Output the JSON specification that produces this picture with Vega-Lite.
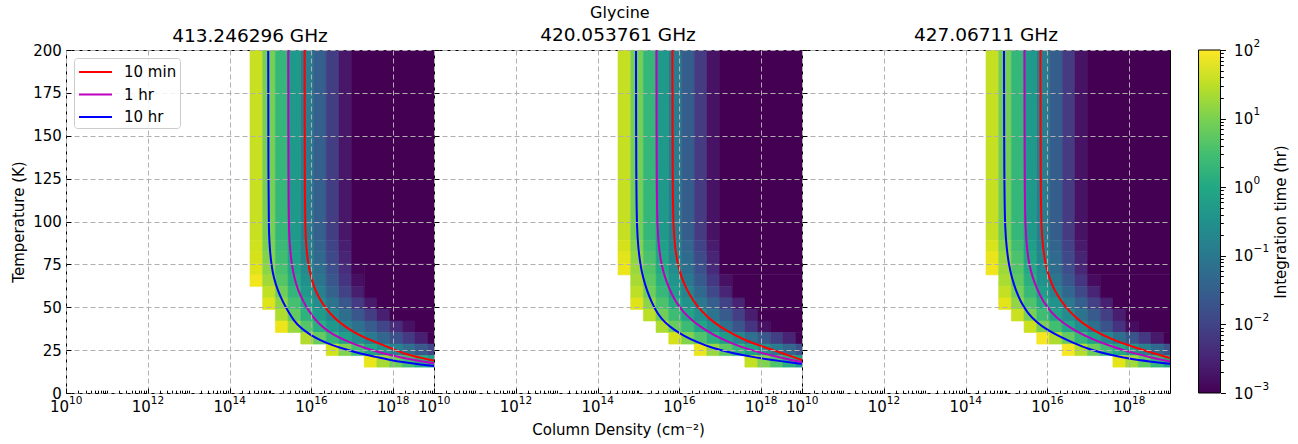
{
"$schema":"https://vega.github.io/schema/vega-lite/v6.json",
"background":"white",
"padding":{"left":11,"right":2,"top":5,"bottom":3},
"config":{
 "font":"DejaVu Sans",
 "view":{"stroke":"black","strokeWidth":1},
 "axis":{"labelFont":"DejaVu Sans","titleFont":"DejaVu Sans","labelFontSize":15,"titleFontSize":15,"titleFontWeight":"normal","labelColor":"black","titleColor":"black","tickColor":"black","domain":false},
 "legend":{"labelFont":"DejaVu Sans","titleFont":"DejaVu Sans","labelColor":"black","titleColor":"black"},
 "title":{"font":"DejaVu Sans","fontWeight":"normal","color":"black"}
},
"title":{"text":"Glycine","fontSize":16,"anchor":"middle","offset":4,"dx":-30},
"datasets":{
"cells_413":[
{"n0":14.5,"n1":14.81,"t0":89.05,"t1":200,"log_hr":1.58},{"n0":14.81,"n1":15.121,"t0":89.05,"t1":200,"log_hr":0.96},{"n0":15.121,"n1":15.431,"t0":89.05,"t1":200,"log_hr":0.33},{"n0":15.431,"n1":15.741,"t0":89.05,"t1":200,"log_hr":-0.29},{"n0":15.741,"n1":16.052,"t0":89.05,"t1":200,"log_hr":-0.9},{"n0":16.052,"n1":16.362,"t0":89.05,"t1":200,"log_hr":-1.5},{"n0":16.362,"n1":16.672,"t0":89.05,"t1":200,"log_hr":-2.11},{"n0":16.672,"n1":16.983,"t0":89.05,"t1":200,"log_hr":-2.71},
{"n0":14.5,"n1":14.81,"t0":82.33,"t1":89.05,"log_hr":1.64},{"n0":14.81,"n1":15.121,"t0":82.33,"t1":89.05,"log_hr":1.01},{"n0":15.121,"n1":15.431,"t0":82.33,"t1":89.05,"log_hr":0.39},{"n0":15.431,"n1":15.741,"t0":82.33,"t1":89.05,"log_hr":-0.23},{"n0":15.741,"n1":16.052,"t0":82.33,"t1":89.05,"log_hr":-0.82},{"n0":16.052,"n1":16.362,"t0":82.33,"t1":89.05,"log_hr":-1.41},{"n0":16.362,"n1":16.672,"t0":82.33,"t1":89.05,"log_hr":-2.01},{"n0":16.672,"n1":16.983,"t0":82.33,"t1":89.05,"log_hr":-2.6},
{"n0":14.5,"n1":14.81,"t0":75.6,"t1":82.33,"log_hr":1.69},{"n0":14.81,"n1":15.121,"t0":75.6,"t1":82.33,"log_hr":1.07},{"n0":15.121,"n1":15.431,"t0":75.6,"t1":82.33,"log_hr":0.45},{"n0":15.431,"n1":15.741,"t0":75.6,"t1":82.33,"log_hr":-0.16},{"n0":15.741,"n1":16.052,"t0":75.6,"t1":82.33,"log_hr":-0.74},{"n0":16.052,"n1":16.362,"t0":75.6,"t1":82.33,"log_hr":-1.33},{"n0":16.362,"n1":16.672,"t0":75.6,"t1":82.33,"log_hr":-1.91},{"n0":16.672,"n1":16.983,"t0":75.6,"t1":82.33,"log_hr":-2.49},
{"n0":16.983,"n1":19,"t0":75.6,"t1":200,"log_hr":-3},
{"n0":14.5,"n1":14.81,"t0":68.88,"t1":75.6,"log_hr":1.75},{"n0":14.81,"n1":15.121,"t0":68.88,"t1":75.6,"log_hr":1.13},{"n0":15.121,"n1":15.431,"t0":68.88,"t1":75.6,"log_hr":0.54},{"n0":15.431,"n1":15.741,"t0":68.88,"t1":75.6,"log_hr":-0.05},{"n0":15.741,"n1":16.052,"t0":68.88,"t1":75.6,"log_hr":-0.63},{"n0":16.052,"n1":16.362,"t0":68.88,"t1":75.6,"log_hr":-1.21},{"n0":16.362,"n1":16.672,"t0":68.88,"t1":75.6,"log_hr":-1.79},{"n0":16.672,"n1":16.983,"t0":68.88,"t1":75.6,"log_hr":-2.37},{"n0":16.983,"n1":17.293,"t0":68.88,"t1":75.6,"log_hr":-2.95},
{"n0":14.5,"n1":14.81,"t0":62.16,"t1":68.88,"log_hr":1.91},{"n0":14.81,"n1":15.121,"t0":62.16,"t1":68.88,"log_hr":1.29},{"n0":15.121,"n1":15.431,"t0":62.16,"t1":68.88,"log_hr":0.68},{"n0":15.431,"n1":15.741,"t0":62.16,"t1":68.88,"log_hr":0.09},{"n0":15.741,"n1":16.052,"t0":62.16,"t1":68.88,"log_hr":-0.49},{"n0":16.052,"n1":16.362,"t0":62.16,"t1":68.88,"log_hr":-1.07},{"n0":16.362,"n1":16.672,"t0":62.16,"t1":68.88,"log_hr":-1.65},{"n0":16.672,"n1":16.983,"t0":62.16,"t1":68.88,"log_hr":-2.24},{"n0":16.983,"n1":17.293,"t0":62.16,"t1":68.88,"log_hr":-2.82},
{"n0":14.81,"n1":15.121,"t0":55.43,"t1":62.16,"log_hr":1.53},{"n0":15.121,"n1":15.431,"t0":55.43,"t1":62.16,"log_hr":0.91},{"n0":15.431,"n1":15.741,"t0":55.43,"t1":62.16,"log_hr":0.31},{"n0":15.741,"n1":16.052,"t0":55.43,"t1":62.16,"log_hr":-0.29},{"n0":16.052,"n1":16.362,"t0":55.43,"t1":62.16,"log_hr":-0.87},{"n0":16.362,"n1":16.672,"t0":55.43,"t1":62.16,"log_hr":-1.45},{"n0":16.672,"n1":16.983,"t0":55.43,"t1":62.16,"log_hr":-2.03},{"n0":16.983,"n1":17.293,"t0":55.43,"t1":62.16,"log_hr":-2.61},
{"n0":17.293,"n1":19,"t0":55.43,"t1":75.6,"log_hr":-3},
{"n0":14.81,"n1":15.121,"t0":48.71,"t1":55.43,"log_hr":1.75},{"n0":15.121,"n1":15.431,"t0":48.71,"t1":55.43,"log_hr":1.13},{"n0":15.431,"n1":15.741,"t0":48.71,"t1":55.43,"log_hr":0.52},{"n0":15.741,"n1":16.052,"t0":48.71,"t1":55.43,"log_hr":-0.07},{"n0":16.052,"n1":16.362,"t0":48.71,"t1":55.43,"log_hr":-0.59},{"n0":16.362,"n1":16.672,"t0":48.71,"t1":55.43,"log_hr":-1.11},{"n0":16.672,"n1":16.983,"t0":48.71,"t1":55.43,"log_hr":-1.63},{"n0":16.983,"n1":17.293,"t0":48.71,"t1":55.43,"log_hr":-2.15},{"n0":17.293,"n1":17.603,"t0":48.71,"t1":55.43,"log_hr":-2.67},{"n0":17.603,"n1":19,"t0":48.71,"t1":55.43,"log_hr":-3},
{"n0":15.121,"n1":15.431,"t0":41.98,"t1":48.71,"log_hr":1.4},{"n0":15.431,"n1":15.741,"t0":41.98,"t1":48.71,"log_hr":0.8},{"n0":15.741,"n1":16.052,"t0":41.98,"t1":48.71,"log_hr":0.23},{"n0":16.052,"n1":16.362,"t0":41.98,"t1":48.71,"log_hr":-0.27},{"n0":16.362,"n1":16.672,"t0":41.98,"t1":48.71,"log_hr":-0.73},{"n0":16.672,"n1":16.983,"t0":41.98,"t1":48.71,"log_hr":-1.19},{"n0":16.983,"n1":17.293,"t0":41.98,"t1":48.71,"log_hr":-1.65},{"n0":17.293,"n1":17.603,"t0":41.98,"t1":48.71,"log_hr":-2.11},{"n0":17.603,"n1":17.914,"t0":41.98,"t1":48.71,"log_hr":-2.57},{"n0":17.914,"n1":19,"t0":41.98,"t1":48.71,"log_hr":-3},
{"n0":15.121,"n1":15.431,"t0":35.26,"t1":41.98,"log_hr":1.87},{"n0":15.431,"n1":15.741,"t0":35.26,"t1":41.98,"log_hr":1.25},{"n0":15.741,"n1":16.052,"t0":35.26,"t1":41.98,"log_hr":0.68},{"n0":16.052,"n1":16.362,"t0":35.26,"t1":41.98,"log_hr":0.13},{"n0":16.362,"n1":16.672,"t0":35.26,"t1":41.98,"log_hr":-0.31},{"n0":16.672,"n1":16.983,"t0":35.26,"t1":41.98,"log_hr":-0.73},{"n0":16.983,"n1":17.293,"t0":35.26,"t1":41.98,"log_hr":-1.14},{"n0":17.293,"n1":17.603,"t0":35.26,"t1":41.98,"log_hr":-1.55},{"n0":17.603,"n1":17.914,"t0":35.26,"t1":41.98,"log_hr":-1.96},{"n0":17.914,"n1":18.224,"t0":35.26,"t1":41.98,"log_hr":-2.37},{"n0":18.224,"n1":18.534,"t0":35.26,"t1":41.98,"log_hr":-2.79},{"n0":18.534,"n1":19,"t0":35.26,"t1":41.98,"log_hr":-3},
{"n0":15.741,"n1":16.052,"t0":28.53,"t1":35.26,"log_hr":1.43},{"n0":16.052,"n1":16.362,"t0":28.53,"t1":35.26,"log_hr":0.84},{"n0":16.362,"n1":16.672,"t0":28.53,"t1":35.26,"log_hr":0.32},{"n0":16.672,"n1":16.983,"t0":28.53,"t1":35.26,"log_hr":-0.16},{"n0":16.983,"n1":17.293,"t0":28.53,"t1":35.26,"log_hr":-0.56},{"n0":17.293,"n1":17.603,"t0":28.53,"t1":35.26,"log_hr":-0.96},{"n0":17.603,"n1":17.914,"t0":28.53,"t1":35.26,"log_hr":-1.37},{"n0":17.914,"n1":18.224,"t0":28.53,"t1":35.26,"log_hr":-1.77},{"n0":18.224,"n1":18.534,"t0":28.53,"t1":35.26,"log_hr":-2.17},{"n0":18.534,"n1":18.845,"t0":28.53,"t1":35.26,"log_hr":-2.58},{"n0":18.845,"n1":19,"t0":28.53,"t1":35.26,"log_hr":-2.99},
{"n0":16.362,"n1":16.672,"t0":21.81,"t1":28.53,"log_hr":1.67},{"n0":16.672,"n1":16.983,"t0":21.81,"t1":28.53,"log_hr":1.05},{"n0":16.983,"n1":17.293,"t0":21.81,"t1":28.53,"log_hr":0.5},{"n0":17.293,"n1":17.603,"t0":21.81,"t1":28.53,"log_hr":-0.02},{"n0":17.603,"n1":17.914,"t0":21.81,"t1":28.53,"log_hr":-0.42},{"n0":17.914,"n1":18.224,"t0":21.81,"t1":28.53,"log_hr":-0.82},{"n0":18.224,"n1":18.534,"t0":21.81,"t1":28.53,"log_hr":-1.21},{"n0":18.534,"n1":18.845,"t0":21.81,"t1":28.53,"log_hr":-1.61},{"n0":18.845,"n1":19,"t0":21.81,"t1":28.53,"log_hr":-2.0},
{"n0":17.293,"n1":17.603,"t0":15.09,"t1":21.81,"log_hr":1.85},{"n0":17.603,"n1":17.914,"t0":15.09,"t1":21.81,"log_hr":1.35},{"n0":17.914,"n1":18.224,"t0":15.09,"t1":21.81,"log_hr":0.9},{"n0":18.224,"n1":18.534,"t0":15.09,"t1":21.81,"log_hr":0.5},{"n0":18.534,"n1":18.845,"t0":15.09,"t1":21.81,"log_hr":0.1},{"n0":18.845,"n1":19,"t0":15.09,"t1":21.81,"log_hr":-0.25}
],
"cells_420":[
{"n0":14.5,"n1":14.81,"t0":89.05,"t1":200,"log_hr":1.57},{"n0":14.81,"n1":15.121,"t0":89.05,"t1":200,"log_hr":0.95},{"n0":15.121,"n1":15.431,"t0":89.05,"t1":200,"log_hr":0.33},{"n0":15.431,"n1":15.741,"t0":89.05,"t1":200,"log_hr":-0.29},{"n0":15.741,"n1":16.052,"t0":89.05,"t1":200,"log_hr":-0.91},{"n0":16.052,"n1":16.362,"t0":89.05,"t1":200,"log_hr":-1.53},{"n0":16.362,"n1":16.672,"t0":89.05,"t1":200,"log_hr":-2.15},{"n0":16.672,"n1":16.983,"t0":89.05,"t1":200,"log_hr":-2.77},
{"n0":14.5,"n1":14.81,"t0":82.33,"t1":89.05,"log_hr":1.69},{"n0":14.81,"n1":15.121,"t0":82.33,"t1":89.05,"log_hr":1.07},{"n0":15.121,"n1":15.431,"t0":82.33,"t1":89.05,"log_hr":0.45},{"n0":15.431,"n1":15.741,"t0":82.33,"t1":89.05,"log_hr":-0.17},{"n0":15.741,"n1":16.052,"t0":82.33,"t1":89.05,"log_hr":-0.79},{"n0":16.052,"n1":16.362,"t0":82.33,"t1":89.05,"log_hr":-1.4},{"n0":16.362,"n1":16.672,"t0":82.33,"t1":89.05,"log_hr":-2.02},{"n0":16.672,"n1":16.983,"t0":82.33,"t1":89.05,"log_hr":-2.63},
{"n0":14.5,"n1":14.81,"t0":75.6,"t1":82.33,"log_hr":1.8},{"n0":14.81,"n1":15.121,"t0":75.6,"t1":82.33,"log_hr":1.18},{"n0":15.121,"n1":15.431,"t0":75.6,"t1":82.33,"log_hr":0.56},{"n0":15.431,"n1":15.741,"t0":75.6,"t1":82.33,"log_hr":-0.05},{"n0":15.741,"n1":16.052,"t0":75.6,"t1":82.33,"log_hr":-0.66},{"n0":16.052,"n1":16.362,"t0":75.6,"t1":82.33,"log_hr":-1.27},{"n0":16.362,"n1":16.672,"t0":75.6,"t1":82.33,"log_hr":-1.88},{"n0":16.672,"n1":16.983,"t0":75.6,"t1":82.33,"log_hr":-2.49},
{"n0":14.5,"n1":14.81,"t0":68.88,"t1":75.6,"log_hr":1.86},{"n0":14.81,"n1":15.121,"t0":68.88,"t1":75.6,"log_hr":1.24},{"n0":15.121,"n1":15.431,"t0":68.88,"t1":75.6,"log_hr":0.64},{"n0":15.431,"n1":15.741,"t0":68.88,"t1":75.6,"log_hr":0.06},{"n0":15.741,"n1":16.052,"t0":68.88,"t1":75.6,"log_hr":-0.56},{"n0":16.052,"n1":16.362,"t0":68.88,"t1":75.6,"log_hr":-1.18},{"n0":16.362,"n1":16.672,"t0":68.88,"t1":75.6,"log_hr":-1.79},{"n0":16.672,"n1":16.983,"t0":68.88,"t1":75.6,"log_hr":-2.41},
{"n0":16.983,"n1":19,"t0":68.88,"t1":200,"log_hr":-3},
{"n0":14.81,"n1":15.121,"t0":62.16,"t1":68.88,"log_hr":1.35},{"n0":15.121,"n1":15.431,"t0":62.16,"t1":68.88,"log_hr":0.75},{"n0":15.431,"n1":15.741,"t0":62.16,"t1":68.88,"log_hr":0.18},{"n0":15.741,"n1":16.052,"t0":62.16,"t1":68.88,"log_hr":-0.41},{"n0":16.052,"n1":16.362,"t0":62.16,"t1":68.88,"log_hr":-1.01},{"n0":16.362,"n1":16.672,"t0":62.16,"t1":68.88,"log_hr":-1.6},{"n0":16.672,"n1":16.983,"t0":62.16,"t1":68.88,"log_hr":-2.19},{"n0":16.983,"n1":17.293,"t0":62.16,"t1":68.88,"log_hr":-2.79},
{"n0":14.81,"n1":15.121,"t0":55.43,"t1":62.16,"log_hr":1.51},{"n0":15.121,"n1":15.431,"t0":55.43,"t1":62.16,"log_hr":0.9},{"n0":15.431,"n1":15.741,"t0":55.43,"t1":62.16,"log_hr":0.36},{"n0":15.741,"n1":16.052,"t0":55.43,"t1":62.16,"log_hr":-0.2},{"n0":16.052,"n1":16.362,"t0":55.43,"t1":62.16,"log_hr":-0.77},{"n0":16.362,"n1":16.672,"t0":55.43,"t1":62.16,"log_hr":-1.34},{"n0":16.672,"n1":16.983,"t0":55.43,"t1":62.16,"log_hr":-1.91},{"n0":16.983,"n1":17.293,"t0":55.43,"t1":62.16,"log_hr":-2.49},
{"n0":17.293,"n1":19,"t0":55.43,"t1":68.88,"log_hr":-3},
{"n0":14.81,"n1":15.121,"t0":48.71,"t1":55.43,"log_hr":1.76},{"n0":15.121,"n1":15.431,"t0":48.71,"t1":55.43,"log_hr":1.14},{"n0":15.431,"n1":15.741,"t0":48.71,"t1":55.43,"log_hr":0.59},{"n0":15.741,"n1":16.052,"t0":48.71,"t1":55.43,"log_hr":0.06},{"n0":16.052,"n1":16.362,"t0":48.71,"t1":55.43,"log_hr":-0.46},{"n0":16.362,"n1":16.672,"t0":48.71,"t1":55.43,"log_hr":-0.98},{"n0":16.672,"n1":16.983,"t0":48.71,"t1":55.43,"log_hr":-1.5},{"n0":16.983,"n1":17.293,"t0":48.71,"t1":55.43,"log_hr":-2.02},{"n0":17.293,"n1":17.603,"t0":48.71,"t1":55.43,"log_hr":-2.54},{"n0":17.603,"n1":19,"t0":48.71,"t1":55.43,"log_hr":-3},
{"n0":15.121,"n1":15.431,"t0":41.98,"t1":48.71,"log_hr":1.5},{"n0":15.431,"n1":15.741,"t0":41.98,"t1":48.71,"log_hr":0.91},{"n0":15.741,"n1":16.052,"t0":41.98,"t1":48.71,"log_hr":0.43},{"n0":16.052,"n1":16.362,"t0":41.98,"t1":48.71,"log_hr":-0.05},{"n0":16.362,"n1":16.672,"t0":41.98,"t1":48.71,"log_hr":-0.56},{"n0":16.672,"n1":16.983,"t0":41.98,"t1":48.71,"log_hr":-1.07},{"n0":16.983,"n1":17.293,"t0":41.98,"t1":48.71,"log_hr":-1.58},{"n0":17.293,"n1":17.603,"t0":41.98,"t1":48.71,"log_hr":-2.09},{"n0":17.603,"n1":17.914,"t0":41.98,"t1":48.71,"log_hr":-2.61},{"n0":17.914,"n1":19,"t0":41.98,"t1":48.71,"log_hr":-3},
{"n0":15.431,"n1":15.741,"t0":35.26,"t1":41.98,"log_hr":1.4},{"n0":15.741,"n1":16.052,"t0":35.26,"t1":41.98,"log_hr":0.85},{"n0":16.052,"n1":16.362,"t0":35.26,"t1":41.98,"log_hr":0.41},{"n0":16.362,"n1":16.672,"t0":35.26,"t1":41.98,"log_hr":-0.04},{"n0":16.672,"n1":16.983,"t0":35.26,"t1":41.98,"log_hr":-0.59},{"n0":16.983,"n1":17.293,"t0":35.26,"t1":41.98,"log_hr":-1.14},{"n0":17.293,"n1":17.603,"t0":35.26,"t1":41.98,"log_hr":-1.69},{"n0":17.603,"n1":17.914,"t0":35.26,"t1":41.98,"log_hr":-2.24},{"n0":17.914,"n1":18.224,"t0":35.26,"t1":41.98,"log_hr":-2.79},{"n0":18.224,"n1":19,"t0":35.26,"t1":41.98,"log_hr":-3},
{"n0":15.741,"n1":16.052,"t0":28.53,"t1":35.26,"log_hr":1.69},{"n0":16.052,"n1":16.362,"t0":28.53,"t1":35.26,"log_hr":1.07},{"n0":16.362,"n1":16.672,"t0":28.53,"t1":35.26,"log_hr":0.63},{"n0":16.672,"n1":16.983,"t0":28.53,"t1":35.26,"log_hr":0.2},{"n0":16.983,"n1":17.293,"t0":28.53,"t1":35.26,"log_hr":-0.24},{"n0":17.293,"n1":17.603,"t0":28.53,"t1":35.26,"log_hr":-0.7},{"n0":17.603,"n1":17.914,"t0":28.53,"t1":35.26,"log_hr":-1.15},{"n0":17.914,"n1":18.224,"t0":28.53,"t1":35.26,"log_hr":-1.61},{"n0":18.224,"n1":18.534,"t0":28.53,"t1":35.26,"log_hr":-2.07},{"n0":18.534,"n1":18.845,"t0":28.53,"t1":35.26,"log_hr":-2.52},{"n0":18.845,"n1":19,"t0":28.53,"t1":35.26,"log_hr":-2.98},
{"n0":16.362,"n1":16.672,"t0":21.81,"t1":28.53,"log_hr":1.85},{"n0":16.672,"n1":16.983,"t0":21.81,"t1":28.53,"log_hr":1.23},{"n0":16.983,"n1":17.293,"t0":21.81,"t1":28.53,"log_hr":0.74},{"n0":17.293,"n1":17.603,"t0":21.81,"t1":28.53,"log_hr":0.33},{"n0":17.603,"n1":17.914,"t0":21.81,"t1":28.53,"log_hr":-0.09},{"n0":17.914,"n1":18.224,"t0":21.81,"t1":28.53,"log_hr":-0.52},{"n0":18.224,"n1":18.534,"t0":21.81,"t1":28.53,"log_hr":-0.94},{"n0":18.534,"n1":18.845,"t0":21.81,"t1":28.53,"log_hr":-1.36},{"n0":18.845,"n1":19,"t0":21.81,"t1":28.53,"log_hr":-1.79},
{"n0":17.603,"n1":17.914,"t0":15.09,"t1":21.81,"log_hr":1.55},{"n0":17.914,"n1":18.224,"t0":15.09,"t1":21.81,"log_hr":1.05},{"n0":18.224,"n1":18.534,"t0":15.09,"t1":21.81,"log_hr":0.6},{"n0":18.534,"n1":18.845,"t0":15.09,"t1":21.81,"log_hr":0.15},{"n0":18.845,"n1":19,"t0":15.09,"t1":21.81,"log_hr":-0.2}
],
"cells_427":[
{"n0":14.5,"n1":14.81,"t0":89.05,"t1":200,"log_hr":1.57},{"n0":14.81,"n1":15.121,"t0":89.05,"t1":200,"log_hr":0.95},{"n0":15.121,"n1":15.431,"t0":89.05,"t1":200,"log_hr":0.33},{"n0":15.431,"n1":15.741,"t0":89.05,"t1":200,"log_hr":-0.29},{"n0":15.741,"n1":16.052,"t0":89.05,"t1":200,"log_hr":-0.91},{"n0":16.052,"n1":16.362,"t0":89.05,"t1":200,"log_hr":-1.53},{"n0":16.362,"n1":16.672,"t0":89.05,"t1":200,"log_hr":-2.15},{"n0":16.672,"n1":16.983,"t0":89.05,"t1":200,"log_hr":-2.77},
{"n0":14.5,"n1":14.81,"t0":82.33,"t1":89.05,"log_hr":1.71},{"n0":14.81,"n1":15.121,"t0":82.33,"t1":89.05,"log_hr":1.09},{"n0":15.121,"n1":15.431,"t0":82.33,"t1":89.05,"log_hr":0.46},{"n0":15.431,"n1":15.741,"t0":82.33,"t1":89.05,"log_hr":-0.18},{"n0":15.741,"n1":16.052,"t0":82.33,"t1":89.05,"log_hr":-0.8},{"n0":16.052,"n1":16.362,"t0":82.33,"t1":89.05,"log_hr":-1.41},{"n0":16.362,"n1":16.672,"t0":82.33,"t1":89.05,"log_hr":-2.03},{"n0":16.672,"n1":16.983,"t0":82.33,"t1":89.05,"log_hr":-2.65},
{"n0":14.5,"n1":14.81,"t0":75.6,"t1":82.33,"log_hr":1.84},{"n0":14.81,"n1":15.121,"t0":75.6,"t1":82.33,"log_hr":1.22},{"n0":15.121,"n1":15.431,"t0":75.6,"t1":82.33,"log_hr":0.58},{"n0":15.431,"n1":15.741,"t0":75.6,"t1":82.33,"log_hr":-0.06},{"n0":15.741,"n1":16.052,"t0":75.6,"t1":82.33,"log_hr":-0.68},{"n0":16.052,"n1":16.362,"t0":75.6,"t1":82.33,"log_hr":-1.29},{"n0":16.362,"n1":16.672,"t0":75.6,"t1":82.33,"log_hr":-1.91},{"n0":16.672,"n1":16.983,"t0":75.6,"t1":82.33,"log_hr":-2.52},
{"n0":14.5,"n1":14.81,"t0":68.88,"t1":75.6,"log_hr":1.9},{"n0":14.81,"n1":15.121,"t0":68.88,"t1":75.6,"log_hr":1.28},{"n0":15.121,"n1":15.431,"t0":68.88,"t1":75.6,"log_hr":0.66},{"n0":15.431,"n1":15.741,"t0":68.88,"t1":75.6,"log_hr":0.03},{"n0":15.741,"n1":16.052,"t0":68.88,"t1":75.6,"log_hr":-0.59},{"n0":16.052,"n1":16.362,"t0":68.88,"t1":75.6,"log_hr":-1.22},{"n0":16.362,"n1":16.672,"t0":68.88,"t1":75.6,"log_hr":-1.84},{"n0":16.672,"n1":16.983,"t0":68.88,"t1":75.6,"log_hr":-2.47},
{"n0":16.983,"n1":19,"t0":68.88,"t1":200,"log_hr":-3},
{"n0":14.81,"n1":15.121,"t0":62.16,"t1":68.88,"log_hr":1.38},{"n0":15.121,"n1":15.431,"t0":62.16,"t1":68.88,"log_hr":0.77},{"n0":15.431,"n1":15.741,"t0":62.16,"t1":68.88,"log_hr":0.17},{"n0":15.741,"n1":16.052,"t0":62.16,"t1":68.88,"log_hr":-0.44},{"n0":16.052,"n1":16.362,"t0":62.16,"t1":68.88,"log_hr":-1.04},{"n0":16.362,"n1":16.672,"t0":62.16,"t1":68.88,"log_hr":-1.65},{"n0":16.672,"n1":16.983,"t0":62.16,"t1":68.88,"log_hr":-2.25},{"n0":16.983,"n1":17.293,"t0":62.16,"t1":68.88,"log_hr":-2.86},
{"n0":14.81,"n1":15.121,"t0":55.43,"t1":62.16,"log_hr":1.55},{"n0":15.121,"n1":15.431,"t0":55.43,"t1":62.16,"log_hr":0.94},{"n0":15.431,"n1":15.741,"t0":55.43,"t1":62.16,"log_hr":0.36},{"n0":15.741,"n1":16.052,"t0":55.43,"t1":62.16,"log_hr":-0.21},{"n0":16.052,"n1":16.362,"t0":55.43,"t1":62.16,"log_hr":-0.78},{"n0":16.362,"n1":16.672,"t0":55.43,"t1":62.16,"log_hr":-1.35},{"n0":16.672,"n1":16.983,"t0":55.43,"t1":62.16,"log_hr":-1.92},{"n0":16.983,"n1":17.293,"t0":55.43,"t1":62.16,"log_hr":-2.49},
{"n0":17.293,"n1":19,"t0":55.43,"t1":68.88,"log_hr":-3},
{"n0":14.81,"n1":15.121,"t0":48.71,"t1":55.43,"log_hr":1.8},{"n0":15.121,"n1":15.431,"t0":48.71,"t1":55.43,"log_hr":1.18},{"n0":15.431,"n1":15.741,"t0":48.71,"t1":55.43,"log_hr":0.62},{"n0":15.741,"n1":16.052,"t0":48.71,"t1":55.43,"log_hr":0.07},{"n0":16.052,"n1":16.362,"t0":48.71,"t1":55.43,"log_hr":-0.46},{"n0":16.362,"n1":16.672,"t0":48.71,"t1":55.43,"log_hr":-0.99},{"n0":16.672,"n1":16.983,"t0":48.71,"t1":55.43,"log_hr":-1.52},{"n0":16.983,"n1":17.293,"t0":48.71,"t1":55.43,"log_hr":-2.05},{"n0":17.293,"n1":17.603,"t0":48.71,"t1":55.43,"log_hr":-2.58},{"n0":17.603,"n1":19,"t0":48.71,"t1":55.43,"log_hr":-3},
{"n0":15.121,"n1":15.431,"t0":41.98,"t1":48.71,"log_hr":1.6},{"n0":15.431,"n1":15.741,"t0":41.98,"t1":48.71,"log_hr":0.99},{"n0":15.741,"n1":16.052,"t0":41.98,"t1":48.71,"log_hr":0.45},{"n0":16.052,"n1":16.362,"t0":41.98,"t1":48.71,"log_hr":-0.08},{"n0":16.362,"n1":16.672,"t0":41.98,"t1":48.71,"log_hr":-0.59},{"n0":16.672,"n1":16.983,"t0":41.98,"t1":48.71,"log_hr":-1.09},{"n0":16.983,"n1":17.293,"t0":41.98,"t1":48.71,"log_hr":-1.59},{"n0":17.293,"n1":17.603,"t0":41.98,"t1":48.71,"log_hr":-2.09},{"n0":17.603,"n1":17.914,"t0":41.98,"t1":48.71,"log_hr":-2.6},{"n0":17.914,"n1":19,"t0":41.98,"t1":48.71,"log_hr":-3},
{"n0":15.431,"n1":15.741,"t0":35.26,"t1":41.98,"log_hr":1.62},{"n0":15.741,"n1":16.052,"t0":35.26,"t1":41.98,"log_hr":1.0},{"n0":16.052,"n1":16.362,"t0":35.26,"t1":41.98,"log_hr":0.48},{"n0":16.362,"n1":16.672,"t0":35.26,"t1":41.98,"log_hr":-0.03},{"n0":16.672,"n1":16.983,"t0":35.26,"t1":41.98,"log_hr":-0.6},{"n0":16.983,"n1":17.293,"t0":35.26,"t1":41.98,"log_hr":-1.16},{"n0":17.293,"n1":17.603,"t0":35.26,"t1":41.98,"log_hr":-1.72},{"n0":17.603,"n1":17.914,"t0":35.26,"t1":41.98,"log_hr":-2.28},{"n0":17.914,"n1":18.224,"t0":35.26,"t1":41.98,"log_hr":-2.84},{"n0":18.224,"n1":19,"t0":35.26,"t1":41.98,"log_hr":-3},
{"n0":15.741,"n1":16.052,"t0":28.53,"t1":35.26,"log_hr":1.95},{"n0":16.052,"n1":16.362,"t0":28.53,"t1":35.26,"log_hr":1.39},{"n0":16.362,"n1":16.672,"t0":28.53,"t1":35.26,"log_hr":0.82},{"n0":16.672,"n1":16.983,"t0":28.53,"t1":35.26,"log_hr":0.33},{"n0":16.983,"n1":17.293,"t0":28.53,"t1":35.26,"log_hr":-0.15},{"n0":17.293,"n1":17.603,"t0":28.53,"t1":35.26,"log_hr":-0.66},{"n0":17.603,"n1":17.914,"t0":28.53,"t1":35.26,"log_hr":-1.16},{"n0":17.914,"n1":18.224,"t0":28.53,"t1":35.26,"log_hr":-1.66},{"n0":18.224,"n1":18.534,"t0":28.53,"t1":35.26,"log_hr":-2.16},{"n0":18.534,"n1":18.845,"t0":28.53,"t1":35.26,"log_hr":-2.66},{"n0":18.845,"n1":19,"t0":28.53,"t1":35.26,"log_hr":-3},
{"n0":16.362,"n1":16.672,"t0":21.81,"t1":28.53,"log_hr":1.95},{"n0":16.672,"n1":16.983,"t0":21.81,"t1":28.53,"log_hr":1.45},{"n0":16.983,"n1":17.293,"t0":21.81,"t1":28.53,"log_hr":0.88},{"n0":17.293,"n1":17.603,"t0":21.81,"t1":28.53,"log_hr":0.46},{"n0":17.603,"n1":17.914,"t0":21.81,"t1":28.53,"log_hr":0.03},{"n0":17.914,"n1":18.224,"t0":21.81,"t1":28.53,"log_hr":-0.41},{"n0":18.224,"n1":18.534,"t0":21.81,"t1":28.53,"log_hr":-0.86},{"n0":18.534,"n1":18.845,"t0":21.81,"t1":28.53,"log_hr":-1.31},{"n0":18.845,"n1":19,"t0":21.81,"t1":28.53,"log_hr":-1.76},
{"n0":17.603,"n1":17.914,"t0":15.09,"t1":21.81,"log_hr":1.8},{"n0":17.914,"n1":18.224,"t0":15.09,"t1":21.81,"log_hr":1.3},{"n0":18.224,"n1":18.534,"t0":15.09,"t1":21.81,"log_hr":0.8},{"n0":18.534,"n1":18.845,"t0":15.09,"t1":21.81,"log_hr":0.35},{"n0":18.845,"n1":19,"t0":15.09,"t1":21.81,"log_hr":0.0}
],
"lines_413":[
{"level":"10 hr","lgN":14.946,"T":200},{"level":"10 hr","lgN":14.95,"T":120},{"level":"10 hr","lgN":14.961,"T":95},{"level":"10 hr","lgN":14.981,"T":85},{"level":"10 hr","lgN":15.021,"T":75},{"level":"10 hr","lgN":15.081,"T":67},{"level":"10 hr","lgN":15.176,"T":60},{"level":"10 hr","lgN":15.306,"T":53},{"level":"10 hr","lgN":15.446,"T":47},{"level":"10 hr","lgN":15.576,"T":42},{"level":"10 hr","lgN":15.736,"T":38},{"level":"10 hr","lgN":15.966,"T":34},{"level":"10 hr","lgN":16.196,"T":31},{"level":"10 hr","lgN":16.496,"T":28},{"level":"10 hr","lgN":16.826,"T":25.5},{"level":"10 hr","lgN":17.196,"T":23},{"level":"10 hr","lgN":17.596,"T":21},{"level":"10 hr","lgN":17.896,"T":19.4},{"level":"10 hr","lgN":18.276,"T":17.8},{"level":"10 hr","lgN":18.676,"T":16.6},{"level":"10 hr","lgN":19.0,"T":15.8},
{"level":"1 hr","lgN":15.435,"T":200},{"level":"1 hr","lgN":15.439,"T":120},{"level":"1 hr","lgN":15.452,"T":95},{"level":"1 hr","lgN":15.474,"T":85},{"level":"1 hr","lgN":15.52,"T":75},{"level":"1 hr","lgN":15.584,"T":67},{"level":"1 hr","lgN":15.674,"T":60},{"level":"1 hr","lgN":15.79,"T":54},{"level":"1 hr","lgN":15.93,"T":48},{"level":"1 hr","lgN":16.1,"T":42.5},{"level":"1 hr","lgN":16.3,"T":38},{"level":"1 hr","lgN":16.53,"T":34},{"level":"1 hr","lgN":16.8,"T":31},{"level":"1 hr","lgN":17.1,"T":28},{"level":"1 hr","lgN":17.43,"T":25.3},{"level":"1 hr","lgN":17.78,"T":23},{"level":"1 hr","lgN":18.14,"T":21},{"level":"1 hr","lgN":18.55,"T":19},{"level":"1 hr","lgN":19.0,"T":17.3},
{"level":"10 min","lgN":15.835,"T":200},{"level":"10 min","lgN":15.84,"T":120},{"level":"10 min","lgN":15.853,"T":95},{"level":"10 min","lgN":15.876,"T":85},{"level":"10 min","lgN":15.925,"T":75},{"level":"10 min","lgN":15.995,"T":67},{"level":"10 min","lgN":16.095,"T":60},{"level":"10 min","lgN":16.225,"T":54},{"level":"10 min","lgN":16.395,"T":48},{"level":"10 min","lgN":16.595,"T":43},{"level":"10 min","lgN":16.815,"T":39},{"level":"10 min","lgN":17.065,"T":35},{"level":"10 min","lgN":17.33,"T":32},{"level":"10 min","lgN":17.64,"T":29},{"level":"10 min","lgN":18.0,"T":25.5},{"level":"10 min","lgN":18.33,"T":22.4},{"level":"10 min","lgN":18.7,"T":20.4},{"level":"10 min","lgN":19.0,"T":18.9}
],
"lines_420":[
{"level":"10 hr","lgN":14.94,"T":200},{"level":"10 hr","lgN":14.945,"T":120},{"level":"10 hr","lgN":14.965,"T":95},{"level":"10 hr","lgN":14.995,"T":85},{"level":"10 hr","lgN":15.045,"T":75},{"level":"10 hr","lgN":15.115,"T":67},{"level":"10 hr","lgN":15.205,"T":60},{"level":"10 hr","lgN":15.32,"T":53},{"level":"10 hr","lgN":15.47,"T":46},{"level":"10 hr","lgN":15.65,"T":41},{"level":"10 hr","lgN":15.86,"T":37},{"level":"10 hr","lgN":16.1,"T":33.5},{"level":"10 hr","lgN":16.4,"T":30},{"level":"10 hr","lgN":16.8,"T":26.2},{"level":"10 hr","lgN":17.28,"T":23.3},{"level":"10 hr","lgN":17.9,"T":20.5},{"level":"10 hr","lgN":18.5,"T":18.5},{"level":"10 hr","lgN":19.0,"T":17.0},
{"level":"1 hr","lgN":15.44,"T":200},{"level":"1 hr","lgN":15.445,"T":120},{"level":"1 hr","lgN":15.465,"T":95},{"level":"1 hr","lgN":15.5,"T":85},{"level":"1 hr","lgN":15.56,"T":75},{"level":"1 hr","lgN":15.64,"T":68},{"level":"1 hr","lgN":15.75,"T":61},{"level":"1 hr","lgN":15.9,"T":53.5},{"level":"1 hr","lgN":16.1,"T":47},{"level":"1 hr","lgN":16.35,"T":41.5},{"level":"1 hr","lgN":16.65,"T":36.5},{"level":"1 hr","lgN":17.0,"T":31.8},{"level":"1 hr","lgN":17.45,"T":27.2},{"level":"1 hr","lgN":18.0,"T":23.4},{"level":"1 hr","lgN":18.5,"T":20.5},{"level":"1 hr","lgN":19.0,"T":18.0},
{"level":"10 min","lgN":15.83,"T":200},{"level":"10 min","lgN":15.835,"T":120},{"level":"10 min","lgN":15.857,"T":95},{"level":"10 min","lgN":15.895,"T":85},{"level":"10 min","lgN":15.96,"T":75},{"level":"10 min","lgN":16.045,"T":68},{"level":"10 min","lgN":16.165,"T":61},{"level":"10 min","lgN":16.33,"T":54},{"level":"10 min","lgN":16.55,"T":47.5},{"level":"10 min","lgN":16.82,"T":41.5},{"level":"10 min","lgN":17.15,"T":36.3},{"level":"10 min","lgN":17.55,"T":31.3},{"level":"10 min","lgN":18.0,"T":27.3},{"level":"10 min","lgN":18.5,"T":23.4},{"level":"10 min","lgN":19.0,"T":19.2}
],
"lines_427":[
{"level":"10 hr","lgN":14.94,"T":200},{"level":"10 hr","lgN":14.946,"T":120},{"level":"10 hr","lgN":14.968,"T":95},{"level":"10 hr","lgN":15.003,"T":85},{"level":"10 hr","lgN":15.058,"T":75},{"level":"10 hr","lgN":15.133,"T":67},{"level":"10 hr","lgN":15.228,"T":60},{"level":"10 hr","lgN":15.353,"T":53},{"level":"10 hr","lgN":15.52,"T":46.5},{"level":"10 hr","lgN":15.73,"T":41.5},{"level":"10 hr","lgN":15.98,"T":37},{"level":"10 hr","lgN":16.3,"T":33},{"level":"10 hr","lgN":16.63,"T":29.3},{"level":"10 hr","lgN":17.03,"T":25.4},{"level":"10 hr","lgN":17.52,"T":22.3},{"level":"10 hr","lgN":18.0,"T":20.0},{"level":"10 hr","lgN":18.5,"T":18.4},{"level":"10 hr","lgN":19.0,"T":17.0},
{"level":"1 hr","lgN":15.44,"T":200},{"level":"1 hr","lgN":15.445,"T":120},{"level":"1 hr","lgN":15.465,"T":95},{"level":"1 hr","lgN":15.498,"T":85},{"level":"1 hr","lgN":15.555,"T":75},{"level":"1 hr","lgN":15.632,"T":68},{"level":"1 hr","lgN":15.74,"T":61},{"level":"1 hr","lgN":15.895,"T":53.5},{"level":"1 hr","lgN":16.09,"T":47},{"level":"1 hr","lgN":16.35,"T":41.3},{"level":"1 hr","lgN":16.7,"T":36},{"level":"1 hr","lgN":17.1,"T":31.3},{"level":"1 hr","lgN":17.56,"T":27.2},{"level":"1 hr","lgN":18.08,"T":23.4},{"level":"1 hr","lgN":18.58,"T":20.4},{"level":"1 hr","lgN":19.0,"T":18.4},
{"level":"10 min","lgN":15.83,"T":200},{"level":"10 min","lgN":15.835,"T":120},{"level":"10 min","lgN":15.856,"T":95},{"level":"10 min","lgN":15.892,"T":85},{"level":"10 min","lgN":15.955,"T":75},{"level":"10 min","lgN":16.035,"T":68},{"level":"10 min","lgN":16.15,"T":61},{"level":"10 min","lgN":16.325,"T":54},{"level":"10 min","lgN":16.54,"T":47.5},{"level":"10 min","lgN":16.81,"T":41.5},{"level":"10 min","lgN":17.15,"T":36.2},{"level":"10 min","lgN":17.58,"T":31.3},{"level":"10 min","lgN":18.05,"T":27.2},{"level":"10 min","lgN":18.58,"T":23.3},{"level":"10 min","lgN":19.0,"T":20.4}
],
"colorbar":[{"lo":-3,"hi":2,"left":0,"right":1}]
},
"hconcat":[
{
"width":368,"height":343,
"title":{"text":"413.246296 GHz","fontSize":18.5,"offset":-2,"frame":"group"},
"layer":[
{"data":{"name":"cells_413"},"mark":{"type":"rect","clip":true,"strokeWidth":0.6,"stroke":{"expr":"scale('color', datum.log_hr)"}},
"encoding":{
"x":{"field":"n0","type":"quantitative","scale":{"domain":[10,19],"nice":false,"zero":false},"axis":{"orient":"bottom","values":[10,12,14,16,18],"labelExpr":"'10'","labelFlush":false,"labelOverlap":false,"labelOffset":-7,"grid":true,"gridDash":[5,3],"gridColor":"#b0b0b0","tickSize":-4.9,"labelPadding":11.3,"title":null,"zindex":1}},
"x2":{"field":"n1"},
"y":{"field":"t0","type":"quantitative","scale":{"domain":[0,200],"nice":false,"zero":false},"axis":{"orient":"left","values":[0,25,50,75,100,125,150,175,200],"grid":true,"gridDash":[5,3],"gridColor":"#b0b0b0","tickSize":-4.9,"labelPadding":9.6,"title":"Temperature (K)","titlePadding":6,"zindex":1}},
"y2":{"field":"t1"},
"color":{"field":"log_hr","type":"quantitative","scale":{"type":"linear","domain":[-3,2],"scheme":"viridis","clamp":true},"legend":null}
}},
{"data":{"name":"lines_413"},"mark":{"type":"line","strokeWidth":2,"clip":true,"interpolate":"basis"},
"encoding":{
"x":{"field":"lgN","type":"quantitative","axis":{"orient":"bottom","values":[10.301,10.477,10.602,10.699,10.778,10.845,10.903,10.954,11,11.301,11.477,11.602,11.699,11.778,11.845,11.903,11.954,12.301,12.477,12.602,12.699,12.778,12.845,12.903,12.954,13,13.301,13.477,13.602,13.699,13.778,13.845,13.903,13.954,14.301,14.477,14.602,14.699,14.778,14.845,14.903,14.954,15,15.301,15.477,15.602,15.699,15.778,15.845,15.903,15.954,16.301,16.477,16.602,16.699,16.778,16.845,16.903,16.954,17,17.301,17.477,17.602,17.699,17.778,17.845,17.903,17.954,18.301,18.477,18.602,18.699,18.778,18.845,18.903,18.954],"labels":false,"grid":false,"tickSize":-2.8,"title":null,"zindex":1}},
"y":{"field":"T","type":"quantitative","axis":null},
"stroke":{"field":"level","type":"nominal","scale":{"domain":["10 min","1 hr","10 hr"],"range":["#ff0000","#bf00bf","#0000ff"]},"legend":{"orient":"top-left","offset":8,"title":null,"symbolType":"M-0.9,0H2.4","symbolStrokeWidth":2,"symbolSize":400,"labelFontSize":15,"fillColor":"rgba(255,255,255,0.85)","strokeColor":"#cccccc","cornerRadius":3,"padding":3,"rowPadding":3.5,"labelOffset":25,"zindex":2}},
"order":{"field":"T","sort":"descending"}
}},
{"data":{"name":"lines_413"},"mark":{"type":"point","opacity":0},
"encoding":{
"x":{"field":"lgN","type":"quantitative","axis":{"orient":"bottom","values":[10,12,14,16,18],"labelExpr":"format(datum.value,'d')","labelFontSize":10.5,"labelOffset":9.2,"labelPadding":2.7,"ticks":false,"tickSize":0,"grid":false,"labelFlush":false,"labelOverlap":false,"title":null,"zindex":1}},
"y":{"field":"T","type":"quantitative","axis":null}
}}
],
"resolve":{"axis":{"x":"independent","y":"independent"}}
},
{
"width":368,"height":343,
"title":{"text":"420.053761 GHz","fontSize":18.5,"offset":3,"frame":"group"},
"layer":[
{"data":{"name":"cells_420"},"mark":{"type":"rect","clip":true,"strokeWidth":0.6,"stroke":{"expr":"scale('color', datum.log_hr)"}},
"encoding":{
"x":{"field":"n0","type":"quantitative","scale":{"domain":[10,19],"nice":false,"zero":false},"axis":{"orient":"bottom","values":[10,12,14,16,18],"labelExpr":"'10'","labelFlush":false,"labelOverlap":false,"labelOffset":-7,"grid":true,"gridDash":[5,3],"gridColor":"#b0b0b0","tickSize":-4.9,"labelPadding":11.3,"title":"Column Density (cm⁻²)","titlePadding":8,"zindex":1}},
"x2":{"field":"n1"},
"y":{"field":"t0","type":"quantitative","scale":{"domain":[0,200],"nice":false,"zero":false},"axis":{"orient":"left","values":[0,25,50,75,100,125,150,175,200],"labels":false,"grid":true,"gridDash":[5,3],"gridColor":"#b0b0b0","tickSize":-4.9,"title":null,"zindex":1}},
"y2":{"field":"t1"},
"color":{"field":"log_hr","type":"quantitative","scale":{"type":"linear","domain":[-3,2],"scheme":"viridis","clamp":true},"legend":null}
}},
{"data":{"name":"lines_420"},"mark":{"type":"line","strokeWidth":2,"clip":true,"interpolate":"basis"},
"encoding":{
"x":{"field":"lgN","type":"quantitative","axis":{"orient":"bottom","values":[10.301,10.477,10.602,10.699,10.778,10.845,10.903,10.954,11,11.301,11.477,11.602,11.699,11.778,11.845,11.903,11.954,12.301,12.477,12.602,12.699,12.778,12.845,12.903,12.954,13,13.301,13.477,13.602,13.699,13.778,13.845,13.903,13.954,14.301,14.477,14.602,14.699,14.778,14.845,14.903,14.954,15,15.301,15.477,15.602,15.699,15.778,15.845,15.903,15.954,16.301,16.477,16.602,16.699,16.778,16.845,16.903,16.954,17,17.301,17.477,17.602,17.699,17.778,17.845,17.903,17.954,18.301,18.477,18.602,18.699,18.778,18.845,18.903,18.954],"labels":false,"grid":false,"tickSize":-2.8,"title":null,"zindex":1}},
"y":{"field":"T","type":"quantitative","axis":null},
"stroke":{"field":"level","type":"nominal","scale":{"domain":["10 min","1 hr","10 hr"],"range":["#ff0000","#bf00bf","#0000ff"]},"legend":null},
"order":{"field":"T","sort":"descending"}
}},
{"data":{"name":"lines_420"},"mark":{"type":"point","opacity":0},
"encoding":{
"x":{"field":"lgN","type":"quantitative","axis":{"orient":"bottom","values":[10,12,14,16,18],"labelExpr":"format(datum.value,'d')","labelFontSize":10.5,"labelOffset":9.2,"labelPadding":2.7,"ticks":false,"tickSize":0,"grid":false,"labelFlush":false,"labelOverlap":false,"title":null,"zindex":1}},
"y":{"field":"T","type":"quantitative","axis":null}
}}
],
"resolve":{"axis":{"x":"independent","y":"independent"}}
},
{
"width":368,"height":343,
"title":{"text":"427.06711 GHz","fontSize":18.5,"offset":3,"frame":"group"},
"layer":[
{"data":{"name":"cells_427"},"mark":{"type":"rect","clip":true,"strokeWidth":0.6,"stroke":{"expr":"scale('color', datum.log_hr)"}},
"encoding":{
"x":{"field":"n0","type":"quantitative","scale":{"domain":[10,19],"nice":false,"zero":false},"axis":{"orient":"bottom","values":[10,12,14,16,18],"labelExpr":"'10'","labelFlush":false,"labelOverlap":false,"labelOffset":-7,"grid":true,"gridDash":[5,3],"gridColor":"#b0b0b0","tickSize":-4.9,"labelPadding":11.3,"title":null,"zindex":1}},
"x2":{"field":"n1"},
"y":{"field":"t0","type":"quantitative","scale":{"domain":[0,200],"nice":false,"zero":false},"axis":{"orient":"left","values":[0,25,50,75,100,125,150,175,200],"labels":false,"grid":true,"gridDash":[5,3],"gridColor":"#b0b0b0","tickSize":-4.9,"title":null,"zindex":1}},
"y2":{"field":"t1"},
"color":{"field":"log_hr","type":"quantitative","scale":{"type":"linear","domain":[-3,2],"scheme":"viridis","clamp":true},"legend":null}
}},
{"data":{"name":"lines_427"},"mark":{"type":"line","strokeWidth":2,"clip":true,"interpolate":"basis"},
"encoding":{
"x":{"field":"lgN","type":"quantitative","axis":{"orient":"bottom","values":[10.301,10.477,10.602,10.699,10.778,10.845,10.903,10.954,11,11.301,11.477,11.602,11.699,11.778,11.845,11.903,11.954,12.301,12.477,12.602,12.699,12.778,12.845,12.903,12.954,13,13.301,13.477,13.602,13.699,13.778,13.845,13.903,13.954,14.301,14.477,14.602,14.699,14.778,14.845,14.903,14.954,15,15.301,15.477,15.602,15.699,15.778,15.845,15.903,15.954,16.301,16.477,16.602,16.699,16.778,16.845,16.903,16.954,17,17.301,17.477,17.602,17.699,17.778,17.845,17.903,17.954,18.301,18.477,18.602,18.699,18.778,18.845,18.903,18.954],"labels":false,"grid":false,"tickSize":-2.8,"title":null,"zindex":1}},
"y":{"field":"T","type":"quantitative","axis":null},
"stroke":{"field":"level","type":"nominal","scale":{"domain":["10 min","1 hr","10 hr"],"range":["#ff0000","#bf00bf","#0000ff"]},"legend":null},
"order":{"field":"T","sort":"descending"}
}},
{"data":{"name":"lines_427"},"mark":{"type":"point","opacity":0},
"encoding":{
"x":{"field":"lgN","type":"quantitative","axis":{"orient":"bottom","values":[10,12,14,16,18],"labelExpr":"format(datum.value,'d')","labelFontSize":10.5,"labelOffset":9.2,"labelPadding":2.7,"ticks":false,"tickSize":0,"grid":false,"labelFlush":false,"labelOverlap":false,"title":null,"zindex":1}},
"y":{"field":"T","type":"quantitative","axis":null}
}}
],
"resolve":{"axis":{"x":"independent","y":"independent"}}
},
{
"width":50.5,"height":343,
"view":{"stroke":null},
"data":{"name":"colorbar"},
"layer":[
{"mark":{"type":"rect","stroke":"black","strokeWidth":1,"fill":{"gradient":"linear","x1":0,"y1":1,"x2":0,"y2":0,"stops":[{"offset":0,"color":"#440154"},{"offset":0.1,"color":"#482475"},{"offset":0.2,"color":"#414487"},{"offset":0.3,"color":"#355f8d"},{"offset":0.4,"color":"#2a788e"},{"offset":0.5,"color":"#21918c"},{"offset":0.6,"color":"#22a884"},{"offset":0.7,"color":"#44bf70"},{"offset":0.8,"color":"#7ad151"},{"offset":0.9,"color":"#bddf26"},{"offset":1,"color":"#fde725"}]}},
"encoding":{
"x":{"field":"left","type":"quantitative","scale":{"domain":[-1.3,1],"nice":false,"zero":false},"axis":null},"x2":{"field":"right"},
"y":{"field":"lo","type":"quantitative","scale":{"domain":[-3,2],"nice":false,"zero":false},"axis":{"orient":"right","values":[-3,-2,-1,0,1,2],"labelExpr":"'10'","tickSize":4.9,"labelPadding":8.2,"grid":false,"title":null,"zindex":1}},
"y2":{"field":"hi"}
}},
{"mark":{"type":"rect","opacity":0},
"encoding":{
"x":{"field":"left","type":"quantitative","axis":null},"x2":{"field":"right"},
"y":{"field":"lo","type":"quantitative","axis":{"orient":"right","values":[-2.699,-2.523,-2.398,-2.301,-2.222,-2.155,-2.097,-2.046,-1.699,-1.523,-1.398,-1.301,-1.222,-1.155,-1.097,-1.046,-0.699,-0.523,-0.398,-0.301,-0.222,-0.155,-0.097,-0.046,0.301,0.477,0.602,0.699,0.778,0.845,0.903,0.954,1.301,1.477,1.602,1.699,1.778,1.845,1.903,1.954],"labels":false,"tickSize":2.8,"grid":false,"title":null,"zindex":1}},
"y2":{"field":"hi"}
}},
{"mark":{"type":"rect","opacity":0},
"encoding":{
"x":{"field":"left","type":"quantitative","axis":null},"x2":{"field":"right"},
"y":{"field":"lo","type":"quantitative","axis":{"orient":"right","values":[-3,-2,-1,0,1,2],"labelExpr":"datum.value < 0 ? '−' + format(-datum.value,'d') : format(datum.value,'d')","labelFontSize":10.5,"labelOffset":-7,"ticks":false,"tickSize":0,"labelPadding":32.6,"grid":false,"title":"Integration time (hr)","titleAngle":270,"titleBaseline":"top","titlePadding":5,"zindex":1}},
"y2":{"field":"hi"}
}}
],
"resolve":{"axis":{"y":"independent"}}
}
],
"spacing":0,
"bounds":"flush",
"resolve":{"scale":{"color":"shared","stroke":"independent"}}
}
